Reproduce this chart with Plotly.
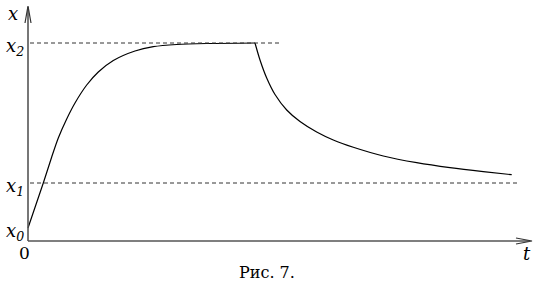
import plotly.graph_objects as go

# Curve data (t, x)
t_rise = [0, 15.3, 23.7, 30.3, 38.7, 47, 58.7, 70.3, 85.3, 107, 125.3, 148.7, 178.7, 227]
x_rise = [13, 58, 84, 103, 122, 138, 156, 169, 180.5, 190, 194.3, 196.5, 197.5, 198]
t_fall = [227, 232, 238.7, 247, 258.7, 272, 288.7, 305.3, 325.3, 355.3, 388.7, 422, 455.3, 483.7]
x_fall = [198, 181, 163, 146.5, 131, 119.5, 109, 101, 93.7, 85, 78.3, 73.3, 69.3, 66.3]

# Levels
level_names = ["x<sub>0</sub>", "x<sub>1</sub>", "x<sub>2</sub>"]
level_values = [13, 58, 198]
dash_ends = [None, 489, 254]

fig = go.Figure()
for tt, xx in ((t_rise, x_rise), (t_fall, x_fall)):
    fig.add_trace(go.Scatter(x=tt, y=xx, mode="lines",
                             line=dict(color="black", width=1.2, shape="spline", smoothing=0.8),
                             hoverinfo="skip", showlegend=False))

serif = "DejaVu Serif"

shapes = []
for v, e in zip(level_values, dash_ends):
    if e is None:
        continue
    shapes.append(dict(type="line", x0=2, x1=e, y0=v, y1=v,
                       line=dict(color="#333", width=1, dash="4px,3px")))
# axes
shapes.append(dict(type="line", x0=0, x1=0, y0=0, y1=234, line=dict(color="#555", width=1.6)))
shapes.append(dict(type="line", x0=0, x1=502, y0=0, y1=0, line=dict(color="#555", width=1.6)))
# arrowheads
shapes.append(dict(type="path", path="M -3,218 L 0,235 L 3,218", line=dict(color="#333", width=1.2)))
shapes.append(dict(type="path", path="M 488,-3 L 504,0 L 488,3", line=dict(color="#333", width=1.2)))

annotations = []
for name, v in zip(level_names, level_values):
    annotations.append(dict(x=-2, y=v - 4, text="<i>" + name + "</i>", showarrow=False,
                            xanchor="right", yanchor="middle",
                            font=dict(family=serif, size=18, color="black")))
annotations.append(dict(x=-8, y=228, text="<i>x</i>", showarrow=False, xanchor="right",
                        yanchor="middle", font=dict(family=serif, size=18, color="black")))
annotations.append(dict(x=-4, y=-12, text="0", showarrow=False, xanchor="center",
                        yanchor="middle", font=dict(family=serif, size=17, color="black")))
annotations.append(dict(x=499, y=-12, text="<i>t</i>", showarrow=False, xanchor="center",
                        yanchor="middle", font=dict(family=serif, size=18, color="black")))
annotations.append(dict(x=239, y=-31, text="Рис. 7.", showarrow=False, xanchor="center",
                        yanchor="middle", font=dict(family=serif, size=16, color="black")))

fig.update_layout(
    width=550, height=282,
    margin=dict(l=0, r=0, t=0, b=0),
    paper_bgcolor="white", plot_bgcolor="white",
    font=dict(family=serif),
    xaxis=dict(range=[-28, 522], visible=False, fixedrange=True),
    yaxis=dict(range=[-41, 241], visible=False, fixedrange=True),
    shapes=shapes, annotations=annotations, showlegend=False,
)
fig.write_html("out.html")
